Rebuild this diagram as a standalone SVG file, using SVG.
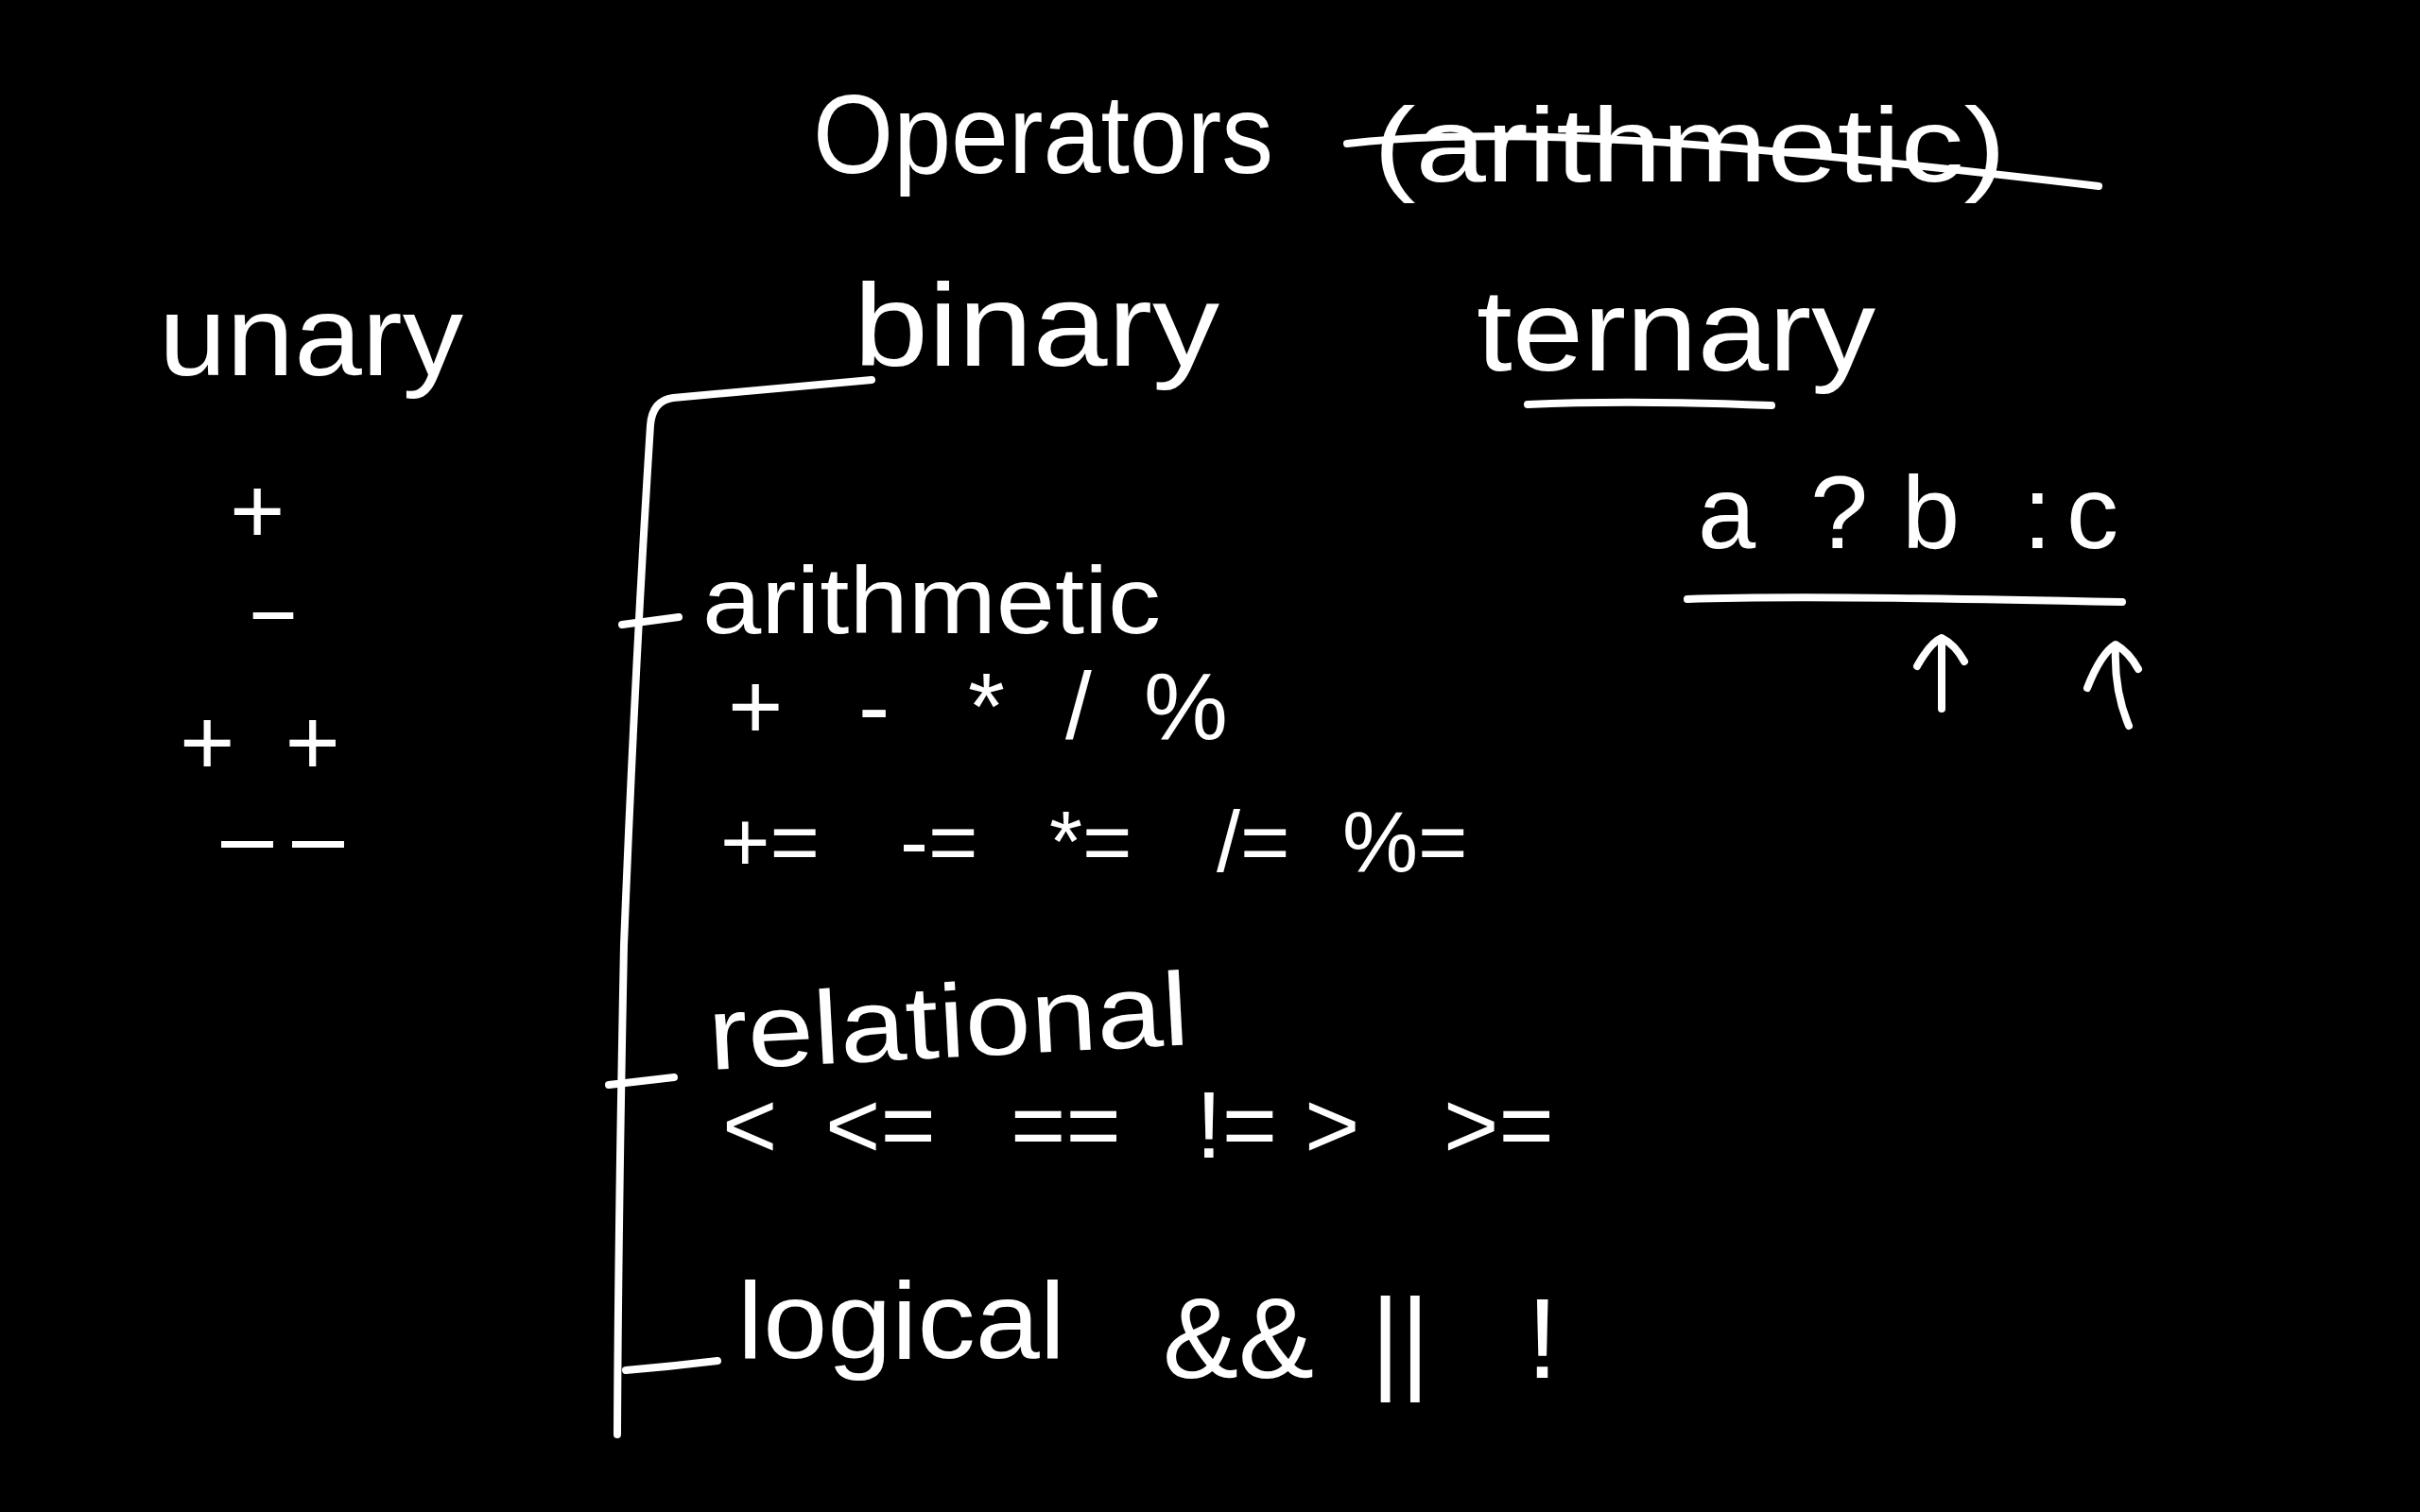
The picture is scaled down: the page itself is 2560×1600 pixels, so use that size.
<svg xmlns="http://www.w3.org/2000/svg" width="2560" height="1600" viewBox="0 0 2560 1600">
<style>
.t{font-family:"Liberation Sans","DejaVu Sans",sans-serif;fill:#fff}
.s{fill:none;stroke:#fff;stroke-width:8;stroke-linecap:round;stroke-linejoin:round}
</style>
<rect x="0" y="0" width="2560" height="1600" fill="#000"/>
<g id="title">
<text class="t" x="860" y="183" font-size="118" textLength="487" lengthAdjust="spacingAndGlyphs">Operators</text>
<text class="t" x="1453" y="192" font-size="112" textLength="669" lengthAdjust="spacingAndGlyphs">(arithmetic)</text>
<path class="s" stroke-width="10" d="M1425,152 C1600,132 1820,150 2220,197"/>
</g>
<g id="unary">
<text class="t" x="168" y="397" font-size="120" textLength="322" lengthAdjust="spacingAndGlyphs">unary</text>
<text class="t" x="243" y="575" font-size="100">+</text>
<text class="t" x="260" y="676" font-size="90" textLength="58" lengthAdjust="spacingAndGlyphs">-</text>
<text class="t" x="190" y="820" font-size="100" textLength="170" lengthAdjust="spacing">++</text>
<text class="t" x="224" y="918" font-size="90" textLength="150" lengthAdjust="spacingAndGlyphs">--</text>
</g>
<g id="binary">
<text class="t" x="903" y="387" font-size="125" textLength="387" lengthAdjust="spacingAndGlyphs">binary</text>
</g>
<g id="ternary">
<text class="t" x="1562" y="392" font-size="122" textLength="422" lengthAdjust="spacingAndGlyphs">ternary</text>
<path class="s" d="M1616,428 C1700,424 1800,426 1874,429"/>
<text class="t" font-size="110" y="580"><tspan x="1796">a</tspan><tspan x="1915">?</tspan><tspan x="2012">b</tspan><tspan x="2140">:</tspan><tspan x="2186">c</tspan></text>
<path class="s" d="M1785,634 C1900,630 2100,634 2245,637"/>
<path class="s" d="M2054,750 L2054,680 M2028,705 Q2042,680 2054,675 Q2068,682 2078,700"/>
<path class="s" d="M2252,768 Q2236,730 2238,685 M2208,728 Q2222,692 2238,682 Q2252,690 2262,708"/>
</g>
<g id="connectors">
<path class="s" d="M922,402 L712,421 Q690,424 688,450 Q672,700 660,1000 Q654,1300 653,1518"/>
<path class="s" d="M658,661 L718,653"/>
<path class="s" d="M644,1148 L713,1140"/>
<path class="s" d="M662,1450 Q710,1446 759,1440"/>
</g>
<g id="arithmetic">
<text class="t" x="743" y="670" font-size="100" textLength="485" lengthAdjust="spacingAndGlyphs">arithmetic</text>
<text class="t" font-size="100" y="782"><tspan x="770">+</tspan><tspan x="908">-</tspan><tspan x="1024">*</tspan><tspan x="1127">/</tspan><tspan x="1210">%</tspan></text>
<text class="t" font-size="90" y="922"><tspan x="762">+=</tspan><tspan x="952">-=</tspan><tspan x="1110">*=</tspan><tspan x="1287">/=</tspan><tspan x="1420">%=</tspan></text>
</g>
<g id="relational">
<text class="t" x="751" y="1132" font-size="110" textLength="509" lengthAdjust="spacingAndGlyphs" transform="rotate(-3 751 1132)">relational</text>
<text class="t" font-size="100" y="1225"><tspan x="764">&lt;</tspan><tspan x="873">&lt;=</tspan><tspan x="1069">==</tspan><tspan x="1265">!=</tspan><tspan x="1380">&gt;</tspan><tspan x="1527">&gt;=</tspan></text>
</g>
<g id="logical">
<text class="t" x="780" y="1437" font-size="115" textLength="347" lengthAdjust="spacingAndGlyphs">logical</text>
<text class="t" font-size="120" y="1458"><tspan x="1230">&amp;&amp;</tspan><tspan x="1450">||</tspan><tspan x="1615">!</tspan></text>
</g>
</svg>
